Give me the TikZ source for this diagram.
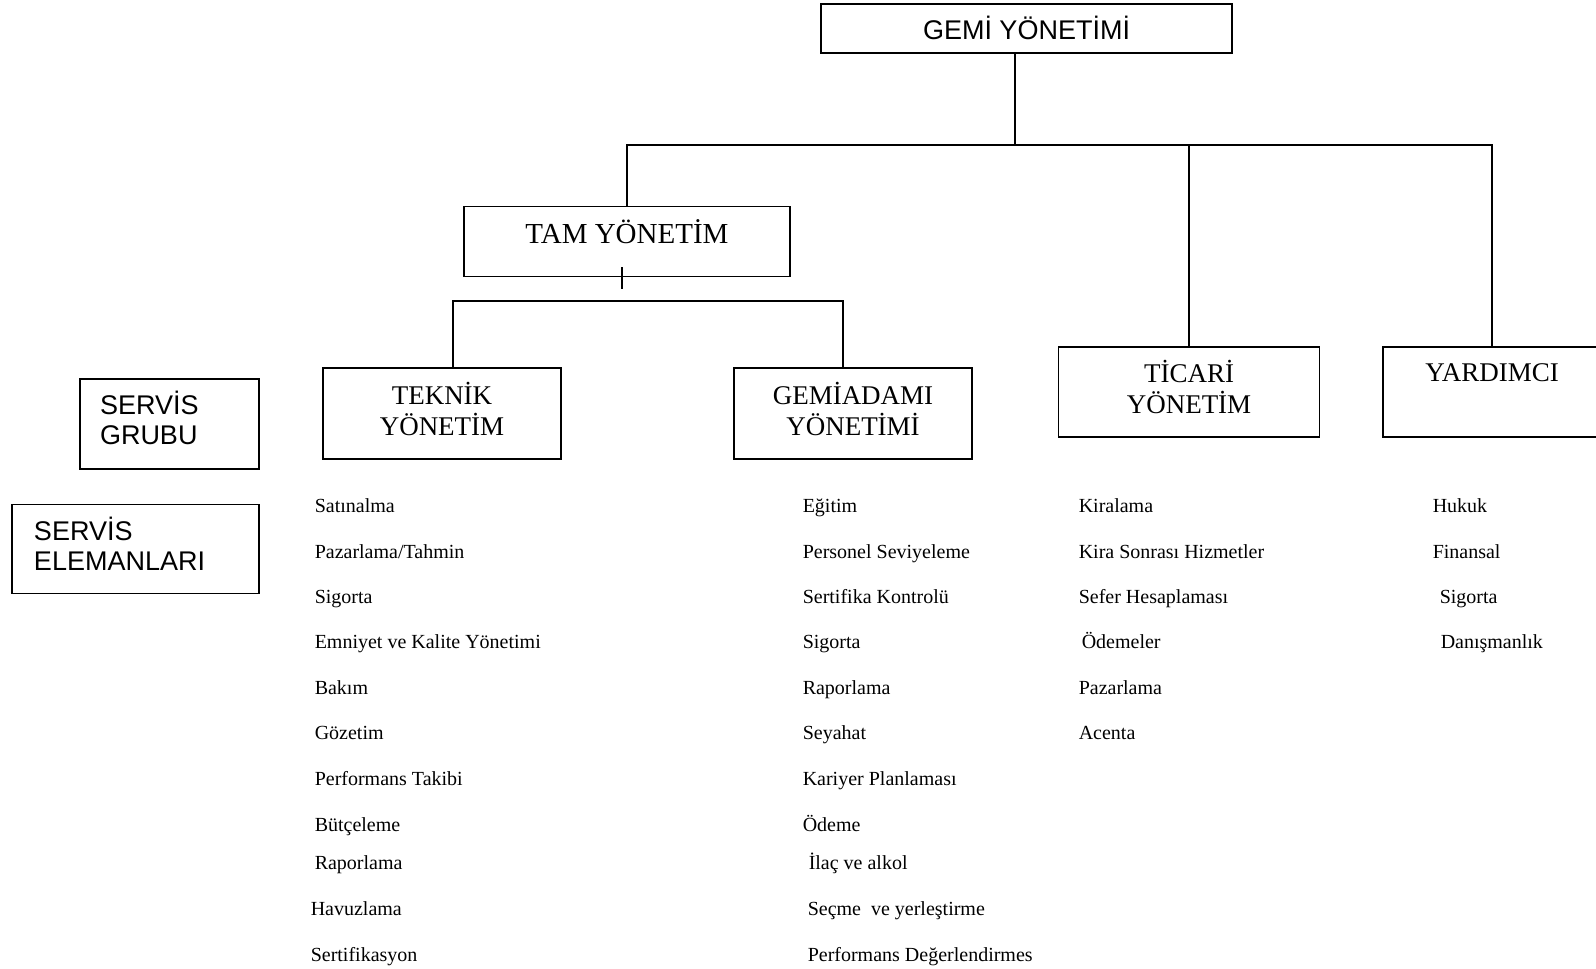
\documentclass[tikz,border=0pt]{standalone}
\usepackage{fontspec}
\setmainfont{Liberation Serif}
\newfontfamily\arialfont{Liberation Sans}
\begin{document}
\begin{tikzpicture}[x=1pt,y=-1pt,line width=1.5pt,
    box/.style={draw,inner sep=0pt,align=center,font=\fontsize{27}{31}\selectfont},
    sansbox/.style={box,align=left,font=\arialfont\fontsize{27}{30}\selectfont},
    item/.style={anchor=base west,inner sep=0pt,font=\fontsize{20}{24}\selectfont}]
  \useasboundingbox (0,0) rectangle (1596,969);
  \node[box,font=\arialfont\fontsize{27}{31}\selectfont,text depth=2pt,minimum width=411pt,minimum height=49pt] (gemi) at (1026.5,28.5) {GEMİ YÖNETİMİ};
  \node[box,font=\fontsize{29}{33}\selectfont,text depth=20pt,minimum width=326pt,minimum height=70pt] (tam) at (627,241.5) {TAM YÖNETİM};
  \node[box,text depth=10pt,minimum width=238pt,minimum height=91pt] (teknik) at (442,413.5) {TEKNİK\\YÖNETİM};
  \node[box,text depth=10pt,minimum width=238pt,minimum height=91pt] (gemiadami) at (853,413.5) {GEMİADAMI\\YÖNETİMİ};
  \node[box,text depth=11pt,minimum width=261pt,minimum height=90pt] (ticari) at (1189,392) {TİCARİ\\YÖNETİM};
  \node[box,text depth=38pt,minimum width=218pt,minimum height=90pt] (yardimci) at (1492,392) {YARDIMCI};
  \node[sansbox,text width=139pt,inner xsep=20pt,text depth=42pt,minimum height=90pt] (grubu) at (169.5,424) {SERVİS\\GRUBU};
  \node[sansbox,text width=203pt,inner xsep=22pt,text depth=40pt,minimum height=89pt] (elemanlar) at (135.5,549) {SERVİS\\ELEMANLARI};
  \coordinate (ust) at (1015,145);
  \coordinate (tikA) at (622,267);
  \coordinate (tikB) at (622,289);
  \coordinate (altA) at (453,301);
  \coordinate (altB) at (843,301);
  \draw (gemi.south -| ust) -- (ust);
  \draw (tam.north) -- (tam.north |- ust) -- (yardimci.north |- ust) -- (yardimci.north);
  \draw (ticari.north |- ust) -- (ticari.north);
  \draw (tikA) -- (tikB);
  \draw (teknik.north -| altA) -- (altA) -- (altB) -- (gemiadami.north -| altB);
  \foreach \x/\y/\t [count=\i] in {314/512/Satınalma, 314/558/{Pazarlama/Tahmin}, 314/603/Sigorta,
      314/648/Emniyet ve Kalite Yönetimi, 314/694/Bakım, 314/739/Gözetim, 314/785/Performans Takibi,
      314/831/Bütçeleme, 314/869/Raporlama, 310/915/Havuzlama, 310/961/Sertifikasyon,
      802/512/Eğitim, 802/558/Personel Seviyeleme, 802/603/Sertifika Kontrolü, 802/648/Sigorta,
      802/694/Raporlama, 802/739/Seyahat, 802/785/Kariyer Planlaması, 802/831/Ödeme,
      808/869/İlaç ve alkol, 807/915/{Seçme~ ve yerleştirme}, 807/961/Performans Değerlendirmes,
      1078/512/Kiralama, 1078/558/Kira Sonrası Hizmetler, 1078/603/Sefer Hesaplaması,
      1081/648/Ödemeler, 1078/694/Pazarlama, 1078/739/Acenta,
      1432/512/Hukuk, 1432/558/Finansal, 1439/603/Sigorta, 1440/648/Danışmanlık}
    \node[item] (eleman\i) at (\x,\y) {\t};
\end{tikzpicture}
\end{document}
